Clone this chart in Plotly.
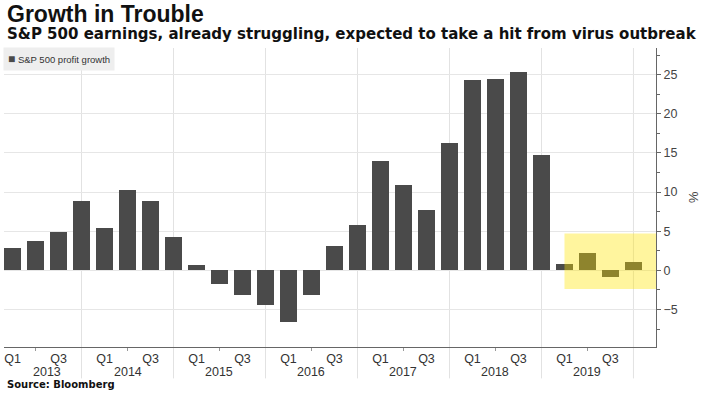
import plotly.graph_objects as go

# ---- data ----
quarters = ["Q1", "Q2", "Q3", "Q4"]
years = ["2013", "2014", "2015", "2016", "2017", "2018", "2019"]
profit_growth = [
    2.8, 3.8, 4.9, 8.9,      # 2013
    5.4, 10.3, 8.9, 4.3,     # 2014
    0.7, -1.7, -3.1, -4.4,   # 2015
    -6.6, -3.1, 3.1, 5.8,    # 2016
    14.0, 10.9, 7.7, 16.2,   # 2017
    24.3, 24.4, 25.3, 14.7,  # 2018
    0.8, 2.2, -0.8, 1.0,     # 2019
]
y_ticks = [-5, 0, 5, 10, 15, 20, 25]
highlight_y = [-2.4, 4.7]

# ---- derived positions (quarter index) ----
n = len(profit_growth)
x_idx = list(range(n))
q_tickvals = [i for i in x_idx if i % 4 in (0, 2)]
q_ticktext = [quarters[i % 4] for i in q_tickvals]
minor_vals = [i for i in x_idx if i % 4 == 1]
year_bounds = [i for i in x_idx if i % 4 == 3]
year_centers = [1.5] + [4 * k + 1 for k in range(1, len(years))]

FONT = "Liberation Sans"
DARK = "#4a4a4a"

fig = go.Figure()
fig.add_trace(go.Bar(
    x=x_idx, y=profit_growth, width=0.74,
    marker=dict(color=DARK, line=dict(width=0)),
    showlegend=False, hoverinfo="y",
))

shapes = []
for b in year_bounds:
    shapes.append(dict(type="line", xref="x", yref="paper", x0=b, x1=b,
                       y0=-0.105, y1=1, layer="below",
                       line=dict(color="#e2e2e2", width=1)))
shapes.append(dict(type="rect", xref="x", yref="y",
                   x0=24, x1=28, y0=highlight_y[0], y1=highlight_y[1],
                   fillcolor="rgba(255,228,0,0.38)", line=dict(width=0),
                   layer="above"))

annotations = []
for yr, xc in zip(years, year_centers):
    annotations.append(dict(text=yr, x=xc, xref="x", y=-0.084, yref="paper",
                            showarrow=False, yanchor="middle",
                            font=dict(family=FONT, size=12.5, color="#333")))
annotations += [
    dict(text="<b>Growth in Trouble</b>", xref="paper", yref="paper",
         x=0, xshift=1, y=1.114, xanchor="left", yanchor="middle",
         showarrow=False, font=dict(family=FONT, size=23, color="#111")),
    dict(text="<b>S&P 500 earnings, already struggling, expected to take a hit from virus outbreak</b>",
         xref="paper", yref="paper", x=0, xshift=1, y=1.047,
         xanchor="left", yanchor="middle", showarrow=False,
         font=dict(family="DejaVu Sans", size=15, color="#111")),
    dict(text="<b>Source: Bloomberg</b>", xref="paper", yref="paper",
         x=0, xshift=1, y=-0.127, xanchor="left", yanchor="middle",
         showarrow=False, font=dict(family="DejaVu Sans", size=10, color="#111")),
    dict(text="<span style='color:#4a4a4a;font-size:12px'>■</span> S&P 500 profit growth",
         xref="paper", yref="paper", x=0, xshift=-1, y=0.963,
         xanchor="left", yanchor="middle", showarrow=False,
         bgcolor="#eeeeee", borderpad=4,
         font=dict(family=FONT, size=9.5, color="#333")),
    dict(text="%", xref="paper", yref="paper", x=1, xshift=37,
         y=0.5, xanchor="center", yanchor="middle", textangle=90,
         showarrow=False, font=dict(family=FONT, size=13, color="#444")),
]

fig.update_layout(
    width=709, height=393,
    margin=dict(l=4, r=53, t=48, b=46),
    paper_bgcolor="white", plot_bgcolor="white",
    bargap=0, shapes=shapes, annotations=annotations,
    xaxis=dict(range=[-0.37, 27.98], tickmode="array",
               tickvals=q_tickvals, ticktext=q_ticktext,
               showgrid=False, zeroline=False, showline=True,
               linecolor="#666", linewidth=1, ticks="",
               tickfont=dict(family=FONT, size=12.5, color="#333"),
               minor=dict(tickmode="array", tickvals=minor_vals,
                          ticks="outside", ticklen=3, tickcolor="#999")),
    yaxis=dict(side="right", range=[-9.8, 28.4], tickmode="array",
               tickvals=y_ticks, ticks="outside", ticklen=4,
               tickcolor="#666", showline=True, linecolor="#666",
               linewidth=1, gridcolor="#e6e6e6", zeroline=False,
               tickfont=dict(family=FONT, size=12.5, color="#444"),
               minor=dict(dtick=2.5, tick0=0, ticks="outside",
                          ticklen=3, tickcolor="#666", showgrid=False)),
)

fig.write_html("out.html", config={"displayModeBar": False},
               post_script="document.body.style.margin='0';document.body.style.overflow='hidden';")
